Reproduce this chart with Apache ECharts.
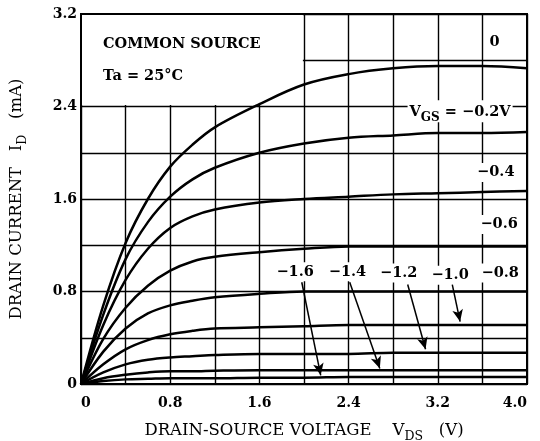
<!DOCTYPE html>
<html>
<head>
<meta charset="utf-8">
<script src="https://cdn.jsdelivr.net/npm/echarts@6/dist/echarts.min.js"></script>
<style>
  html, body { margin: 0; padding: 0; background: #fff; }
  #chart { width: 540px; height: 441px; }
</style>
</head>
<body>
<div id="chart"></div>
<script>
// drain voltage samples (V)
const vds = [0, 0.2, 0.4, 0.6, 0.8, 1.0, 1.2, 1.6, 2.0, 2.4, 2.8, 3.2, 3.6, 4.0];

// drain current (mA) for each gate voltage
const id_0   = [0, 0.68, 1.22, 1.60, 1.88, 2.07, 2.22, 2.42, 2.59, 2.68, 2.73, 2.75, 2.75, 2.73];
const id_m02 = [0, 0.60, 1.08, 1.40, 1.62, 1.77, 1.87, 2.00, 2.08, 2.13, 2.15, 2.17, 2.17, 2.18];
const id_m04 = [0, 0.51, 0.90, 1.17, 1.35, 1.45, 1.51, 1.57, 1.60, 1.62, 1.64, 1.65, 1.66, 1.67];
const id_m06 = [0, 0.39, 0.66, 0.85, 0.98, 1.06, 1.10, 1.14, 1.17, 1.19, 1.19, 1.19, 1.19, 1.19];
const id_m08 = [0, 0.28, 0.48, 0.61, 0.68, 0.72, 0.75, 0.78, 0.80, 0.80, 0.80, 0.80, 0.80, 0.80];
const id_m10 = [0, 0.17, 0.30, 0.38, 0.43, 0.46, 0.48, 0.49, 0.50, 0.51, 0.51, 0.51, 0.51, 0.51];
const id_m12 = [0, 0.10, 0.17, 0.21, 0.23, 0.24, 0.25, 0.26, 0.26, 0.26, 0.27, 0.27, 0.27, 0.27];
const id_m14 = [0, 0.05, 0.08, 0.10, 0.11, 0.11, 0.115, 0.12, 0.12, 0.12, 0.12, 0.12, 0.12, 0.12];
const id_m16 = [0, 0.025, 0.04, 0.045, 0.05, 0.05, 0.05, 0.055, 0.055, 0.06, 0.06, 0.06, 0.06, 0.06];

const vgsNames = ['0', '-0.2', '-0.4', '-0.6', '-0.8', '-1.0', '-1.2', '-1.4', '-1.6'];
const curves = [id_0, id_m02, id_m04, id_m06, id_m08, id_m10, id_m12, id_m14, id_m16];

// tick values
const xTicks = [0, 0.8, 1.6, 2.4, 3.2, 4.0];
const yTicks = [0, 0.8, 1.6, 2.4, 3.2];

// curve labels: text, anchor in data coords
const MINUS = '\u2212';
const notes = [
  { text: 'COMMON SOURCE', at: [0.18, 2.94], align: 'left' },
  { text: 'Ta = 25\u00b0C', at: [0.18, 2.66], align: 'left' },
  { text: '0', at: [3.71, 2.96] },
  { text: '{v|V}{s|GS}{v| = ' + MINUS + '0.2V}', at: [3.40, 2.36] },
  { text: MINUS + '0.4', at: [3.72, 1.83] },
  { text: MINUS + '0.6', at: [3.75, 1.38] },
  { text: MINUS + '0.8', at: [3.76, 0.96] },
  { text: MINUS + '1.0', at: [3.31, 0.94] },
  { text: MINUS + '1.2', at: [2.85, 0.96] },
  { text: MINUS + '1.4', at: [2.39, 0.97] },
  { text: MINUS + '1.6', at: [1.92, 0.97] }
];

// arrows from labels to curves
const arrows = [
  [[1.98, 0.88], [2.15, 0.075]],
  [[2.41, 0.88], [2.68, 0.135]],
  [[2.93, 0.86], [3.09, 0.30]],
  [[3.33, 0.86], [3.40, 0.54]]
];

const SERIF = '"DejaVu Serif", "Liberation Serif", serif';

const chart = echarts.init(document.getElementById('chart'));

const lineSeries = curves.map((vals, i) => ({
  name: 'VGS=' + vgsNames[i],
  type: 'line',
  data: vds.map((x, k) => [x, vals[k]]),
  smooth: 0.35,
  showSymbol: false,
  lineStyle: { color: '#000', width: 2.5 },
  z: 3,
  silent: true
}));

const fmtTick = v => (v === 0 ? '0' : v.toFixed(1));

const nameRich = {
  a: { fontFamily: SERIF, fontSize: 16.5, color: '#000', lineHeight: 22, verticalAlign: 'bottom' },
  s: { fontFamily: SERIF, fontSize: 12.5, color: '#000', lineHeight: 16, verticalAlign: 'bottom', padding: [0, 0, -4, 0] }
};

chart.setOption({
  animation: false,
  backgroundColor: '#fff',
  grid: {
    left: 81, right: 13, top: 14, bottom: 57,
    outerBoundsMode: 'none',
    containLabel: false,
    show: true, borderColor: '#000', borderWidth: 2, z: 4
  },
  xAxis: {
    type: 'value',
    min: 0, max: 4, interval: 0.8,
    axisLine: { show: false },
    axisTick: { show: false },
    splitLine: { show: true, lineStyle: { color: '#000', width: 1.4 } },
    minorTick: { show: false, splitNumber: 2 },
    minorSplitLine: { show: true, lineStyle: { color: '#000', width: 1.4 } },
    axisLabel: {
      formatter: v => (xTicks.includes(+v.toFixed(1)) ? fmtTick(v) : ''),
      color: '#000', fontFamily: SERIF, fontWeight: 'bold', fontSize: 14,
      margin: 12,
      alignMinLabel: 'left',
      alignMaxLabel: 'right'
    },
    name: '{a|DRAIN-SOURCE VOLTAGE    V}{s|DS}{a|   (V)}',
    nameLocation: 'middle',
    nameGap: 33,
    nameTextStyle: { color: '#000', fontFamily: SERIF, rich: nameRich }
  },
  yAxis: {
    type: 'value',
    min: 0, max: 3.2, interval: 0.8,
    axisLine: { show: false },
    axisTick: { show: false },
    splitLine: { show: true, lineStyle: { color: '#000', width: 1.4 } },
    minorTick: { show: false, splitNumber: 2 },
    minorSplitLine: { show: true, lineStyle: { color: '#000', width: 1.4 } },
    axisLabel: {
      formatter: v => (yTicks.includes(+v.toFixed(1)) ? fmtTick(v) : ''),
      color: '#000', fontFamily: SERIF, fontWeight: 'bold', fontSize: 14,
      margin: 4
    },
    name: '{a|DRAIN CURRENT   I}{s|D}{a|   (mA)}',
    nameLocation: 'middle',
    nameGap: 56,
    nameRotate: 90,
    nameTextStyle: { color: '#000', fontFamily: SERIF, rich: nameRich }
  },
  series: [
    ...lineSeries,
    {
      name: 'notes',
      type: 'scatter',
      z: 1,
      silent: true,
      symbolSize: 1,
      itemStyle: { color: 'rgba(0,0,0,0)', opacity: 1 },
      data: notes.map(n => ({
        value: n.at,
        label: { formatter: n.text, align: n.align || 'center' }
      })),
      label: {
        show: true,
        position: 'inside',
        color: '#000',
        fontFamily: SERIF,
        fontWeight: 'bold',
        fontSize: 14.5,
        backgroundColor: '#fff',
        padding: [2, 2],
        rich: {
          v: { fontFamily: SERIF, fontWeight: 'bold', fontSize: 14.5, color: '#000', backgroundColor: '#fff', lineHeight: 18, verticalAlign: 'bottom' },
          s: { fontFamily: SERIF, fontWeight: 'bold', fontSize: 12, color: '#000', backgroundColor: '#fff', lineHeight: 18, verticalAlign: 'bottom', padding: [0, 0, -4, 0] }
        }
      },
      markArea: {
        silent: true,
        itemStyle: { color: '#fff' },
        data: [[{ coord: [0, 2.412] }, { coord: [1.99, 3.2] }]]
      },
      markLine: {
        silent: true,
        symbol: ['none', 'arrow'],
        symbolSize: [8, 12],
        label: { show: false },
        lineStyle: { color: '#000', width: 1.5, type: 'solid' },
        data: arrows.map(a => [{ coord: a[0] }, { coord: a[1] }])
      }
    }
  ]
});
</script>
</body>
</html>
